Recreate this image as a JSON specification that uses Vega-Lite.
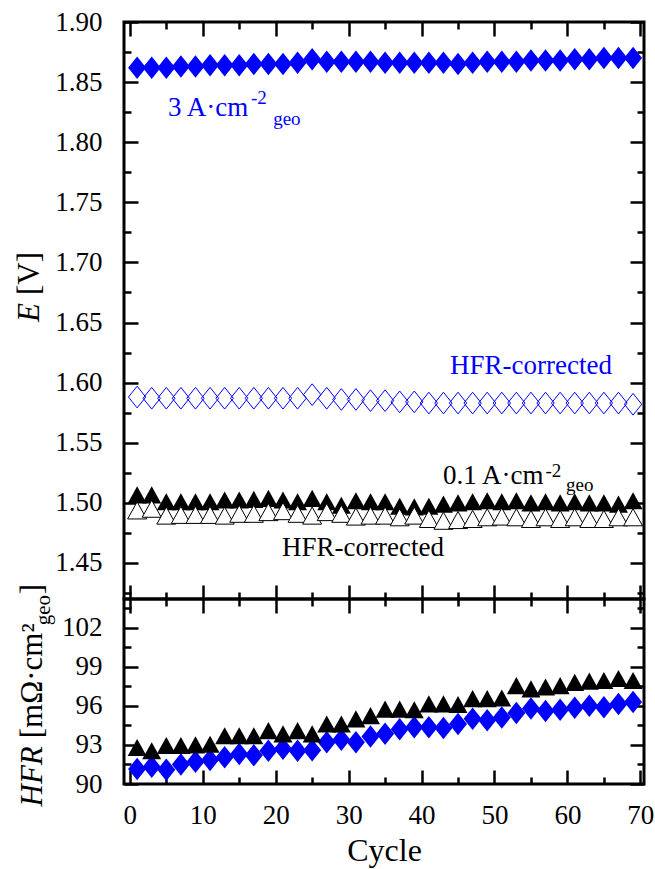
{
  "$schema": "https://vega.github.io/schema/vega-lite/v6.json",
  "padding": {"left": 12, "top": 6, "right": 5, "bottom": 0},
  "spacing": 0,
  "bounds": "flush",
  "config": {
    "font": "Liberation Serif",
    "view": {"stroke": "black", "strokeWidth": 3},
    "style": {
      "guide-label": {"font": "Liberation Serif", "fontSize": 27, "fill": "black"},
      "guide-title": {"font": "Liberation Serif", "fill": "black", "fontWeight": "normal"}
    },
    "axis": {
      "labelFont": "Liberation Serif",
      "labelFontSize": 27,
      "labelColor": "black",
      "titleFont": "Liberation Serif",
      "titleFontWeight": "normal",
      "titleColor": "black",
      "tickColor": "black",
      "tickWidth": 2.5,
      "domain": false,
      "grid": false,
      "labelOverlap": false,
      "labelFlush": false
    }
  },
  "datasets": {
    "top": [
      {"cycle": 1, "E": 1.862, "series": "3A"}, {"cycle": 3, "E": 1.862, "series": "3A"}, {"cycle": 5, "E": 1.862, "series": "3A"}, {"cycle": 7, "E": 1.863, "series": "3A"}, {"cycle": 9, "E": 1.863, "series": "3A"}, {"cycle": 11, "E": 1.864, "series": "3A"}, {"cycle": 13, "E": 1.864, "series": "3A"}, {"cycle": 15, "E": 1.864, "series": "3A"}, {"cycle": 17, "E": 1.865, "series": "3A"}, {"cycle": 19, "E": 1.865, "series": "3A"}, {"cycle": 21, "E": 1.865, "series": "3A"}, {"cycle": 23, "E": 1.866, "series": "3A"}, {"cycle": 25, "E": 1.869, "series": "3A"}, {"cycle": 27, "E": 1.867, "series": "3A"}, {"cycle": 29, "E": 1.867, "series": "3A"}, {"cycle": 31, "E": 1.867, "series": "3A"}, {"cycle": 33, "E": 1.867, "series": "3A"}, {"cycle": 35, "E": 1.866, "series": "3A"}, {"cycle": 37, "E": 1.866, "series": "3A"}, {"cycle": 39, "E": 1.866, "series": "3A"}, {"cycle": 41, "E": 1.866, "series": "3A"}, {"cycle": 43, "E": 1.866, "series": "3A"}, {"cycle": 45, "E": 1.865, "series": "3A"}, {"cycle": 47, "E": 1.866, "series": "3A"}, {"cycle": 49, "E": 1.867, "series": "3A"}, {"cycle": 51, "E": 1.867, "series": "3A"}, {"cycle": 53, "E": 1.867, "series": "3A"}, {"cycle": 55, "E": 1.868, "series": "3A"}, {"cycle": 57, "E": 1.868, "series": "3A"}, {"cycle": 59, "E": 1.868, "series": "3A"}, {"cycle": 61, "E": 1.869, "series": "3A"}, {"cycle": 63, "E": 1.869, "series": "3A"}, {"cycle": 65, "E": 1.870, "series": "3A"}, {"cycle": 67, "E": 1.870, "series": "3A"}, {"cycle": 69, "E": 1.870, "series": "3A"},
      {"cycle": 1, "E": 1.588, "series": "3A_HFR"}, {"cycle": 3, "E": 1.587, "series": "3A_HFR"}, {"cycle": 5, "E": 1.587, "series": "3A_HFR"}, {"cycle": 7, "E": 1.587, "series": "3A_HFR"}, {"cycle": 9, "E": 1.587, "series": "3A_HFR"}, {"cycle": 11, "E": 1.587, "series": "3A_HFR"}, {"cycle": 13, "E": 1.587, "series": "3A_HFR"}, {"cycle": 15, "E": 1.587, "series": "3A_HFR"}, {"cycle": 17, "E": 1.587, "series": "3A_HFR"}, {"cycle": 19, "E": 1.587, "series": "3A_HFR"}, {"cycle": 21, "E": 1.587, "series": "3A_HFR"}, {"cycle": 23, "E": 1.587, "series": "3A_HFR"}, {"cycle": 25, "E": 1.590, "series": "3A_HFR"}, {"cycle": 27, "E": 1.587, "series": "3A_HFR"}, {"cycle": 29, "E": 1.586, "series": "3A_HFR"}, {"cycle": 31, "E": 1.586, "series": "3A_HFR"}, {"cycle": 33, "E": 1.585, "series": "3A_HFR"}, {"cycle": 35, "E": 1.585, "series": "3A_HFR"}, {"cycle": 37, "E": 1.584, "series": "3A_HFR"}, {"cycle": 39, "E": 1.584, "series": "3A_HFR"}, {"cycle": 41, "E": 1.583, "series": "3A_HFR"}, {"cycle": 43, "E": 1.583, "series": "3A_HFR"}, {"cycle": 45, "E": 1.583, "series": "3A_HFR"}, {"cycle": 47, "E": 1.583, "series": "3A_HFR"}, {"cycle": 49, "E": 1.583, "series": "3A_HFR"}, {"cycle": 51, "E": 1.583, "series": "3A_HFR"}, {"cycle": 53, "E": 1.583, "series": "3A_HFR"}, {"cycle": 55, "E": 1.583, "series": "3A_HFR"}, {"cycle": 57, "E": 1.583, "series": "3A_HFR"}, {"cycle": 59, "E": 1.583, "series": "3A_HFR"}, {"cycle": 61, "E": 1.583, "series": "3A_HFR"}, {"cycle": 63, "E": 1.583, "series": "3A_HFR"}, {"cycle": 65, "E": 1.583, "series": "3A_HFR"}, {"cycle": 67, "E": 1.583, "series": "3A_HFR"}, {"cycle": 69, "E": 1.582, "series": "3A_HFR"},
      {"cycle": 1, "E": 1.5066, "series": "01A"}, {"cycle": 3, "E": 1.5066, "series": "01A"}, {"cycle": 5, "E": 1.5009, "series": "01A"}, {"cycle": 7, "E": 1.5009, "series": "01A"}, {"cycle": 9, "E": 1.5009, "series": "01A"}, {"cycle": 11, "E": 1.5009, "series": "01A"}, {"cycle": 13, "E": 1.5023, "series": "01A"}, {"cycle": 15, "E": 1.5023, "series": "01A"}, {"cycle": 17, "E": 1.5029, "series": "01A"}, {"cycle": 19, "E": 1.5037, "series": "01A"}, {"cycle": 21, "E": 1.5023, "series": "01A"}, {"cycle": 23, "E": 1.5009, "series": "01A"}, {"cycle": 25, "E": 1.5037, "series": "01A"}, {"cycle": 27, "E": 1.5009, "series": "01A"}, {"cycle": 29, "E": 1.498, "series": "01A"}, {"cycle": 31, "E": 1.5017, "series": "01A"}, {"cycle": 33, "E": 1.5009, "series": "01A"}, {"cycle": 35, "E": 1.5009, "series": "01A"}, {"cycle": 37, "E": 1.4971, "series": "01A"}, {"cycle": 39, "E": 1.4966, "series": "01A"}, {"cycle": 41, "E": 1.4971, "series": "01A"}, {"cycle": 43, "E": 1.4989, "series": "01A"}, {"cycle": 45, "E": 1.5, "series": "01A"}, {"cycle": 47, "E": 1.5009, "series": "01A"}, {"cycle": 49, "E": 1.5017, "series": "01A"}, {"cycle": 51, "E": 1.5009, "series": "01A"}, {"cycle": 53, "E": 1.5017, "series": "01A"}, {"cycle": 55, "E": 1.5, "series": "01A"}, {"cycle": 57, "E": 1.5009, "series": "01A"}, {"cycle": 59, "E": 1.5, "series": "01A"}, {"cycle": 61, "E": 1.5009, "series": "01A"}, {"cycle": 63, "E": 1.5, "series": "01A"}, {"cycle": 65, "E": 1.5, "series": "01A"}, {"cycle": 67, "E": 1.4989, "series": "01A"}, {"cycle": 69, "E": 1.5017, "series": "01A"},
      {"cycle": 1, "E": 1.4937, "series": "01A_HFR"}, {"cycle": 3, "E": 1.4951, "series": "01A_HFR"}, {"cycle": 5, "E": 1.4894, "series": "01A_HFR"}, {"cycle": 7, "E": 1.49, "series": "01A_HFR"}, {"cycle": 9, "E": 1.49, "series": "01A_HFR"}, {"cycle": 11, "E": 1.49, "series": "01A_HFR"}, {"cycle": 13, "E": 1.4894, "series": "01A_HFR"}, {"cycle": 15, "E": 1.4909, "series": "01A_HFR"}, {"cycle": 17, "E": 1.4909, "series": "01A_HFR"}, {"cycle": 19, "E": 1.4923, "series": "01A_HFR"}, {"cycle": 21, "E": 1.4931, "series": "01A_HFR"}, {"cycle": 23, "E": 1.4909, "series": "01A_HFR"}, {"cycle": 25, "E": 1.4894, "series": "01A_HFR"}, {"cycle": 27, "E": 1.4923, "series": "01A_HFR"}, {"cycle": 29, "E": 1.4909, "series": "01A_HFR"}, {"cycle": 31, "E": 1.4886, "series": "01A_HFR"}, {"cycle": 33, "E": 1.4894, "series": "01A_HFR"}, {"cycle": 35, "E": 1.4894, "series": "01A_HFR"}, {"cycle": 37, "E": 1.488, "series": "01A_HFR"}, {"cycle": 39, "E": 1.4894, "series": "01A_HFR"}, {"cycle": 41, "E": 1.4866, "series": "01A_HFR"}, {"cycle": 43, "E": 1.4851, "series": "01A_HFR"}, {"cycle": 45, "E": 1.4857, "series": "01A_HFR"}, {"cycle": 47, "E": 1.4866, "series": "01A_HFR"}, {"cycle": 49, "E": 1.488, "series": "01A_HFR"}, {"cycle": 51, "E": 1.4886, "series": "01A_HFR"}, {"cycle": 53, "E": 1.488, "series": "01A_HFR"}, {"cycle": 55, "E": 1.4866, "series": "01A_HFR"}, {"cycle": 57, "E": 1.488, "series": "01A_HFR"}, {"cycle": 59, "E": 1.4866, "series": "01A_HFR"}, {"cycle": 61, "E": 1.488, "series": "01A_HFR"}, {"cycle": 63, "E": 1.4866, "series": "01A_HFR"}, {"cycle": 65, "E": 1.4866, "series": "01A_HFR"}, {"cycle": 67, "E": 1.488, "series": "01A_HFR"}, {"cycle": 69, "E": 1.488, "series": "01A_HFR"}
    ],
    "bottom": [
      {"cycle": 1, "HFR": 91.15, "series": "3A"}, {"cycle": 3, "HFR": 91.33, "series": "3A"}, {"cycle": 5, "HFR": 91.1, "series": "3A"}, {"cycle": 7, "HFR": 91.5, "series": "3A"}, {"cycle": 9, "HFR": 91.7, "series": "3A"}, {"cycle": 11, "HFR": 91.85, "series": "3A"}, {"cycle": 13, "HFR": 92.05, "series": "3A"}, {"cycle": 15, "HFR": 92.3, "series": "3A"}, {"cycle": 17, "HFR": 92.2, "series": "3A"}, {"cycle": 19, "HFR": 92.55, "series": "3A"}, {"cycle": 21, "HFR": 92.7, "series": "3A"}, {"cycle": 23, "HFR": 92.55, "series": "3A"}, {"cycle": 25, "HFR": 92.6, "series": "3A"}, {"cycle": 27, "HFR": 93.2, "series": "3A"}, {"cycle": 29, "HFR": 93.4, "series": "3A"}, {"cycle": 31, "HFR": 93.2, "series": "3A"}, {"cycle": 33, "HFR": 93.65, "series": "3A"}, {"cycle": 35, "HFR": 93.85, "series": "3A"}, {"cycle": 37, "HFR": 94.2, "series": "3A"}, {"cycle": 39, "HFR": 94.35, "series": "3A"}, {"cycle": 41, "HFR": 94.35, "series": "3A"}, {"cycle": 43, "HFR": 94.3, "series": "3A"}, {"cycle": 45, "HFR": 94.6, "series": "3A"}, {"cycle": 47, "HFR": 95.0, "series": "3A"}, {"cycle": 49, "HFR": 94.9, "series": "3A"}, {"cycle": 51, "HFR": 95.1, "series": "3A"}, {"cycle": 53, "HFR": 95.45, "series": "3A"}, {"cycle": 55, "HFR": 95.8, "series": "3A"}, {"cycle": 57, "HFR": 95.6, "series": "3A"}, {"cycle": 59, "HFR": 95.7, "series": "3A"}, {"cycle": 61, "HFR": 95.85, "series": "3A"}, {"cycle": 63, "HFR": 96.0, "series": "3A"}, {"cycle": 65, "HFR": 95.9, "series": "3A"}, {"cycle": 67, "HFR": 96.15, "series": "3A"}, {"cycle": 69, "HFR": 96.3, "series": "3A"},
      {"cycle": 1, "HFR": 92.8, "series": "01A"}, {"cycle": 3, "HFR": 92.55, "series": "01A"}, {"cycle": 5, "HFR": 92.95, "series": "01A"}, {"cycle": 7, "HFR": 92.95, "series": "01A"}, {"cycle": 9, "HFR": 93.0, "series": "01A"}, {"cycle": 11, "HFR": 93.05, "series": "01A"}, {"cycle": 13, "HFR": 93.7, "series": "01A"}, {"cycle": 15, "HFR": 93.7, "series": "01A"}, {"cycle": 17, "HFR": 93.7, "series": "01A"}, {"cycle": 19, "HFR": 94.1, "series": "01A"}, {"cycle": 21, "HFR": 93.85, "series": "01A"}, {"cycle": 23, "HFR": 94.1, "series": "01A"}, {"cycle": 25, "HFR": 93.85, "series": "01A"}, {"cycle": 27, "HFR": 94.6, "series": "01A"}, {"cycle": 29, "HFR": 94.6, "series": "01A"}, {"cycle": 31, "HFR": 95.0, "series": "01A"}, {"cycle": 33, "HFR": 95.25, "series": "01A"}, {"cycle": 35, "HFR": 95.75, "series": "01A"}, {"cycle": 37, "HFR": 95.75, "series": "01A"}, {"cycle": 39, "HFR": 95.7, "series": "01A"}, {"cycle": 41, "HFR": 96.15, "series": "01A"}, {"cycle": 43, "HFR": 96.15, "series": "01A"}, {"cycle": 45, "HFR": 96.1, "series": "01A"}, {"cycle": 47, "HFR": 96.55, "series": "01A"}, {"cycle": 49, "HFR": 96.55, "series": "01A"}, {"cycle": 51, "HFR": 96.6, "series": "01A"}, {"cycle": 53, "HFR": 97.55, "series": "01A"}, {"cycle": 55, "HFR": 97.3, "series": "01A"}, {"cycle": 57, "HFR": 97.45, "series": "01A"}, {"cycle": 59, "HFR": 97.55, "series": "01A"}, {"cycle": 61, "HFR": 97.8, "series": "01A"}, {"cycle": 63, "HFR": 97.9, "series": "01A"}, {"cycle": 65, "HFR": 97.95, "series": "01A"}, {"cycle": 67, "HFR": 98.1, "series": "01A"}, {"cycle": 69, "HFR": 97.95, "series": "01A"}
    ],
    "ann": [
      {"cycle": 5.24, "E": 1.8217, "txt": "3 A·cm", "grp": "3A", "kind": "main"},
      {"cycle": 16.6, "E": 1.8317, "txt": "-2", "grp": "3A", "kind": "sup"},
      {"cycle": 19.65, "E": 1.8142, "txt": "geo", "grp": "3A", "kind": "sub"},
      {"cycle": 43.9, "E": 1.6075, "txt": "HFR-corrected", "grp": "3A", "kind": "main"},
      {"cycle": 42.95, "E": 1.5158, "txt": "0.1 A·cm", "grp": "01A", "kind": "main"},
      {"cycle": 57.0, "E": 1.5217, "txt": "-2", "grp": "01A", "kind": "sup"},
      {"cycle": 59.8, "E": 1.51, "txt": "geo", "grp": "01A", "kind": "sub"},
      {"cycle": 20.87, "E": 1.4558, "txt": "HFR-corrected", "grp": "01A", "kind": "main"}
    ],
    "one": [{}]
  },
  "vconcat": [
    {
      "width": 520,
      "height": 577,
      "resolve": {"axis": {"x": "independent", "y": "independent"}},
      "layer": [
        {
          "data": {"name": "top"},
          "transform": [{"filter": "datum.series === '3A'"}],
          "mark": {"type": "point", "shape": "M0,-1.25L1,0L0,1.25L-1,0Z", "size": 324, "filled": true, "color": "#0000ff", "opacity": 1, "strokeWidth": 0},
          "encoding": {
            "x": {"field": "cycle", "type": "quantitative", "scale": {"domain": [-0.8, 70.5], "nice": false, "zero": false},
              "axis": {"orient": "bottom", "title": null, "labels": false, "values": [0, 5, 10, 15, 20, 25, 30, 35, 40, 45, 50, 55, 60, 65, 70],
                "tickSize": {"condition": {"test": "datum.value % 10 === 0", "value": -14}, "value": -7}}},
            "y": {"field": "E", "type": "quantitative", "scale": {"domain": [1.42, 1.9], "nice": false, "zero": false},
              "axis": {"orient": "left", "title": null, "labelFont": "Liberation Serif", "labelFontSize": 27,
                "values": [1.425, 1.45, 1.475, 1.5, 1.525, 1.55, 1.575, 1.6, 1.625, 1.65, 1.675, 1.7, 1.725, 1.75, 1.775, 1.8, 1.825, 1.85, 1.875, 1.9],
                "tickSize": {"condition": {"test": "abs(datum.value*20 - round(datum.value*20)) < 0.001", "value": -14}, "value": -7},
                "labelExpr": "abs(datum.value*20 - round(datum.value*20)) < 0.001 ? format(datum.value, '.2f') : ''",
                "labelPadding": 36}}
          }
        },
        {
          "data": {"name": "top"},
          "transform": [{"filter": "datum.series === '3A_HFR'"}],
          "mark": {"type": "point", "shape": "M0,-1.25L1,0L0,1.25L-1,0Z", "size": 300, "filled": false, "stroke": "#0000ff", "strokeWidth": 1, "opacity": 1},
          "encoding": {
            "x": {"field": "cycle", "type": "quantitative",
              "axis": {"orient": "top", "title": null, "labels": false, "values": [0, 5, 10, 15, 20, 25, 30, 35, 40, 45, 50, 55, 60, 65, 70],
                "tickSize": {"condition": {"test": "datum.value % 10 === 0", "value": -14}, "value": -7}}},
            "y": {"field": "E", "type": "quantitative",
              "axis": {"orient": "right", "title": null, "labels": false,
                "values": [1.425, 1.45, 1.475, 1.5, 1.525, 1.55, 1.575, 1.6, 1.625, 1.65, 1.675, 1.7, 1.725, 1.75, 1.775, 1.8, 1.825, 1.85, 1.875, 1.9],
                "tickSize": {"condition": {"test": "abs(datum.value*20 - round(datum.value*20)) < 0.001", "value": -14}, "value": -7}}}
          }
        },
        {
          "data": {"name": "top"},
          "transform": [{"filter": "datum.series === '01A'"}],
          "mark": {"type": "point", "shape": "M0,-0.9L1,0.9L-1,0.9Z", "size": 361, "filled": true, "color": "black", "opacity": 1, "strokeWidth": 0},
          "encoding": {
            "x": {"field": "cycle", "type": "quantitative", "axis": null},
            "y": {"field": "E", "type": "quantitative", "axis": null}
          }
        },
        {
          "data": {"name": "top"},
          "transform": [{"filter": "datum.series === '01A_HFR'"}],
          "mark": {"type": "point", "shape": "M0,-0.9L1,0.9L-1,0.9Z", "size": 361, "filled": true, "fill": "white", "stroke": "black", "strokeWidth": 1, "opacity": 1},
          "encoding": {
            "x": {"field": "cycle", "type": "quantitative", "axis": null},
            "y": {"field": "E", "type": "quantitative", "axis": null}
          }
        },
        {
          "data": {"name": "ann"},
          "transform": [{"filter": "datum.kind === 'main'"}],
          "mark": {"type": "text", "align": "left", "baseline": "alphabetic", "font": "Liberation Serif", "fontSize": 27},
          "encoding": {
            "x": {"field": "cycle", "type": "quantitative", "axis": null},
            "y": {"field": "E", "type": "quantitative", "axis": null},
            "text": {"field": "txt"},
            "color": {"field": "grp", "type": "nominal", "scale": {"domain": ["3A", "01A"], "range": ["#0000ff", "black"]}, "legend": null}
          }
        },
        {
          "data": {"name": "ann"},
          "transform": [{"filter": "datum.kind !== 'main'"}],
          "mark": {"type": "text", "align": "left", "baseline": "alphabetic", "font": "Liberation Serif", "fontSize": 19},
          "encoding": {
            "x": {"field": "cycle", "type": "quantitative", "axis": null},
            "y": {"field": "E", "type": "quantitative", "axis": null},
            "text": {"field": "txt"},
            "color": {"field": "grp", "type": "nominal", "scale": {"domain": ["3A", "01A"], "range": ["#0000ff", "black"]}, "legend": null}
          }
        },
        {
          "data": {"name": "one"},
          "mark": {"type": "text", "angle": 270, "align": "right", "baseline": "alphabetic", "font": "Liberation Serif", "fontSize": 31, "fontStyle": "italic", "color": "black"},
          "encoding": {"x": {"datum": -12.4, "type": "quantitative", "axis": null}, "y": {"datum": 1.6662, "type": "quantitative", "axis": null}, "text": {"value": "E"}}
        },
        {
          "data": {"name": "one"},
          "mark": {"type": "text", "angle": 270, "align": "left", "baseline": "alphabetic", "font": "Liberation Serif", "fontSize": 31, "dx": 8, "color": "black"},
          "encoding": {"x": {"datum": -12.4, "type": "quantitative", "axis": null}, "y": {"datum": 1.6662, "type": "quantitative", "axis": null}, "text": {"value": "[V]"}}
        }
      ]
    },
    {
      "width": 520,
      "height": 185,
      "resolve": {"axis": {"x": "independent", "y": "independent"}},
      "layer": [
        {
          "data": {"name": "bottom"},
          "transform": [{"filter": "datum.series === '3A'"}],
          "mark": {"type": "point", "shape": "M0,-1.25L1,0L0,1.25L-1,0Z", "size": 324, "filled": true, "color": "#0000ff", "opacity": 1, "strokeWidth": 0},
          "encoding": {
            "x": {"field": "cycle", "type": "quantitative", "scale": {"domain": [-0.8, 70.5], "nice": false, "zero": false},
              "axis": {"orient": "bottom", "title": "Cycle", "titleFont": "Liberation Serif", "titleFontSize": 32, "titlePadding": 0, "labelFont": "Liberation Serif", "labelFontSize": 27,
                "values": [0, 5, 10, 15, 20, 25, 30, 35, 40, 45, 50, 55, 60, 65, 70],
                "tickSize": {"condition": {"test": "datum.value % 10 === 0", "value": -14}, "value": -7},
                "labelExpr": "datum.value % 10 === 0 ? format(datum.value, 'd') : ''",
                "labelPadding": 32}},
            "y": {"field": "HFR", "type": "quantitative", "scale": {"domain": [90, 104.2], "nice": false, "zero": false},
              "axis": {"orient": "left", "title": null, "labelFont": "Liberation Serif", "labelFontSize": 27,
                "values": [90, 91.5, 93, 94.5, 96, 97.5, 99, 100.5, 102, 103.5],
                "tickSize": {"condition": {"test": "datum.value % 3 === 0", "value": -14}, "value": -7},
                "labelExpr": "datum.value % 3 === 0 ? format(datum.value, 'd') : ''",
                "labelPadding": 36}}
          }
        },
        {
          "data": {"name": "bottom"},
          "transform": [{"filter": "datum.series === '01A'"}],
          "mark": {"type": "point", "shape": "M0,-0.9L1,0.9L-1,0.9Z", "size": 361, "filled": true, "color": "black", "opacity": 1, "strokeWidth": 0},
          "encoding": {
            "x": {"field": "cycle", "type": "quantitative",
              "axis": {"orient": "top", "title": null, "labels": false, "values": [0, 5, 10, 15, 20, 25, 30, 35, 40, 45, 50, 55, 60, 65, 70],
                "tickSize": {"condition": {"test": "datum.value % 10 === 0", "value": -14}, "value": -7}}},
            "y": {"field": "HFR", "type": "quantitative",
              "axis": {"orient": "right", "title": null, "labels": false,
                "values": [90, 91.5, 93, 94.5, 96, 97.5, 99, 100.5, 102, 103.5],
                "tickSize": {"condition": {"test": "datum.value % 3 === 0", "value": -14}, "value": -7}}}
          }
        },
        {
          "data": {"name": "one"},
          "mark": {"type": "text", "angle": 270, "align": "right", "baseline": "alphabetic", "font": "Liberation Serif", "fontSize": 31, "fontStyle": "italic", "color": "black"},
          "encoding": {"x": {"datum": -12.0, "type": "quantitative", "axis": null}, "y": {"datum": 92.9, "type": "quantitative", "axis": null}, "text": {"value": "HFR"}}
        },
        {
          "data": {"name": "one"},
          "mark": {"type": "text", "angle": 270, "align": "left", "baseline": "alphabetic", "font": "Liberation Serif", "fontSize": 31, "dx": 8, "color": "black"},
          "encoding": {"x": {"datum": -12.0, "type": "quantitative", "axis": null}, "y": {"datum": 92.9, "type": "quantitative", "axis": null}, "text": {"value": "[mΩ·cm²"}}
        },
        {
          "data": {"name": "one"},
          "mark": {"type": "text", "angle": 270, "align": "left", "baseline": "alphabetic", "font": "Liberation Serif", "fontSize": 21, "dx": 121, "dy": 8, "color": "black"},
          "encoding": {"x": {"datum": -12.0, "type": "quantitative", "axis": null}, "y": {"datum": 92.9, "type": "quantitative", "axis": null}, "text": {"value": "geo"}}
        },
        {
          "data": {"name": "one"},
          "mark": {"type": "text", "angle": 270, "align": "left", "baseline": "alphabetic", "font": "Liberation Serif", "fontSize": 31, "dx": 152, "color": "black"},
          "encoding": {"x": {"datum": -12.0, "type": "quantitative", "axis": null}, "y": {"datum": 92.9, "type": "quantitative", "axis": null}, "text": {"value": "]"}}
        }
      ]
    }
  ]
}
